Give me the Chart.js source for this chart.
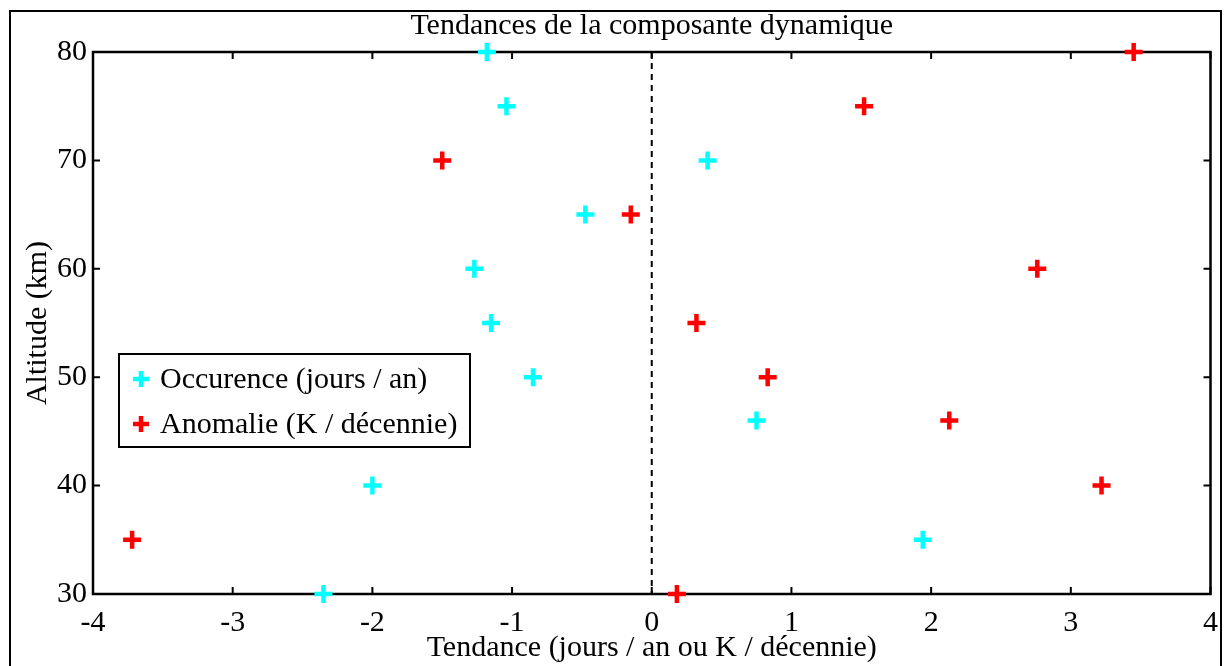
<!DOCTYPE html>
<html>
<head>
<meta charset="utf-8">
<script src="https://cdn.jsdelivr.net/npm/chart.js@4/dist/chart.umd.min.js"></script>
<style>
  html, body { margin: 0; padding: 0; background: #fff; }
  #wrap { width: 1224px; height: 666px; position: relative; }
</style>
</head>
<body>
<div id="wrap"><canvas id="chart" width="1224" height="666"></canvas></div>
<script>
const altitudes = [80, 75, 70, 65, 60, 55, 50, 46, 40, 35, 30];
const occurence = [-1.18, -1.04, 0.40, -0.475, -1.27, -1.15, -0.85, 0.75, -2.00, 1.94, -2.35];
const anomalie = [3.45, 1.52, -1.50, -0.15, 2.76, 0.32, 0.83, 2.13, 3.22, -3.72, 0.18];
const seriesLabels = ["Occurence (jours / an)", "Anomalie (K / d\u00e9cennie)"];
const xTicks = [-4, -3, -2, -1, 0, 1, 2, 3, 4];
const yTicks = [30, 40, 50, 60, 70, 80];

const serif = "'Liberation Serif', 'DejaVu Serif', serif";
const fontSize = 30;

function toPoints(xs) {
  return xs.map(function (v, i) { return { x: v, y: altitudes[i] }; });
}

// frame, inward ticks, zero line and the boxed legend
const framePlugin = {
  id: "frame",
  beforeDatasetsDraw: function (chart) {
    const ctx = chart.ctx;
    const a = chart.chartArea;
    const xs = chart.scales.x;
    const ys = chart.scales.y;
    ctx.save();
    // outer figure frame
    ctx.strokeStyle = "#000";
    ctx.lineWidth = 2;
    ctx.strokeRect(10, 11, 1211, 700);
    // zero line
    const x0 = xs.getPixelForValue(0);
    ctx.setLineDash([6, 5]);
    ctx.lineWidth = 2;
    ctx.beginPath();
    ctx.moveTo(x0, a.top);
    ctx.lineTo(x0, a.bottom);
    ctx.stroke();
    ctx.setLineDash([]);
    // axes box
    ctx.lineWidth = 2.5;
    ctx.strokeRect(a.left, a.top, a.right - a.left, a.bottom - a.top);
    // inward ticks
    ctx.lineWidth = 2;
    const tl = 7;
    ctx.beginPath();
    xTicks.forEach(function (v) {
      const p = xs.getPixelForValue(v);
      ctx.moveTo(p, a.bottom); ctx.lineTo(p, a.bottom - tl);
      ctx.moveTo(p, a.top); ctx.lineTo(p, a.top + tl);
    });
    yTicks.forEach(function (v) {
      const p = ys.getPixelForValue(v);
      ctx.moveTo(a.left, p); ctx.lineTo(a.left + tl, p);
      ctx.moveTo(a.right, p); ctx.lineTo(a.right - tl, p);
    });
    ctx.stroke();
    ctx.restore();
  },
  afterDraw: function (chart) {
    const ctx = chart.ctx;
    const a = chart.chartArea;
    const bx = a.left + 26, by = 354, bw = 351, bh = 93;
    ctx.save();
    ctx.fillStyle = "#fff";
    ctx.fillRect(bx, by, bw, bh);
    ctx.strokeStyle = "#000";
    ctx.lineWidth = 2;
    ctx.strokeRect(bx, by, bw, bh);
    ctx.font = fontSize + "px " + serif;
    ctx.textBaseline = "middle";
    chart.data.datasets.forEach(function (ds, i) {
      const cy = by + 25 + i * 45;
      const cx = bx + 22;
      ctx.strokeStyle = ds.borderColor;
      ctx.lineWidth = 4.5;
      ctx.beginPath();
      ctx.moveTo(cx - 8, cy); ctx.lineTo(cx + 8, cy);
      ctx.moveTo(cx, cy - 8); ctx.lineTo(cx, cy + 8);
      ctx.stroke();
      ctx.fillStyle = "#000";
      ctx.fillText(ds.label, bx + 41, cy + 1);
    });
    ctx.restore();
  }
};

new Chart(document.getElementById("chart"), {
  type: "scatter",
  data: {
    datasets: [
      {
        label: seriesLabels[0],
        data: toPoints(occurence),
        borderColor: "#00ffff",
        backgroundColor: "#00ffff",
        pointStyle: "cross",
        pointRadius: 9,
        pointBorderWidth: 4.5,
        clip: false,
      },
      {
        label: seriesLabels[1],
        data: toPoints(anomalie),
        borderColor: "#ff0000",
        backgroundColor: "#ff0000",
        pointStyle: "cross",
        pointRadius: 9,
        pointBorderWidth: 4.5,
        clip: false,
      },
    ],
  },
  options: {
    responsive: false,
    animation: false,
    layout: { padding: { left: 0, right: 6, top: 0, bottom: 0 } },
    scales: {
      x: {
        type: "linear",
        min: -4,
        max: 4,
        afterBuildTicks: function (s) { s.ticks = xTicks.map(function (v) { return { value: v }; }); },
        afterFit: function (s) { s.height = 72; s.paddingLeft = 0; s.paddingRight = 0; },
        grid: { display: false, drawTicks: false },
        border: { display: false },
        ticks: { color: "#000", font: { family: serif, size: fontSize }, padding: 11, maxRotation: 0 },
        title: {
          display: true,
          text: "Tendance (jours / an ou K / d\u00e9cennie)",
          color: "#000",
          font: { family: serif, size: fontSize },
          padding: { top: 0, bottom: 0 },
        },
      },
      y: {
        type: "linear",
        min: 30,
        max: 80,
        afterBuildTicks: function (s) { s.ticks = yTicks.map(function (v) { return { value: v }; }); },
        afterFit: function (s) { s.width = 93; s.paddingTop = 0; s.paddingBottom = 0; },
        grid: { display: false, drawTicks: false },
        border: { display: false },
        ticks: { color: "#000", font: { family: serif, size: fontSize }, padding: 6 },
        title: {
          display: true,
          text: "Altitude (km)",
          color: "#000",
          font: { family: serif, size: fontSize },
          padding: { top: 20, bottom: 0 },
        },
      },
    },
    plugins: {
      legend: { display: false },
      tooltip: { enabled: false },
      title: {
        display: true,
        fullSize: false,
        text: "Tendances de la composante dynamique",
        color: "#000",
        font: { family: serif, size: fontSize, weight: "normal" },
        padding: { top: 8, bottom: 8 },
      },
    },
  },
  plugins: [framePlugin],
});
</script>
</body>
</html>
